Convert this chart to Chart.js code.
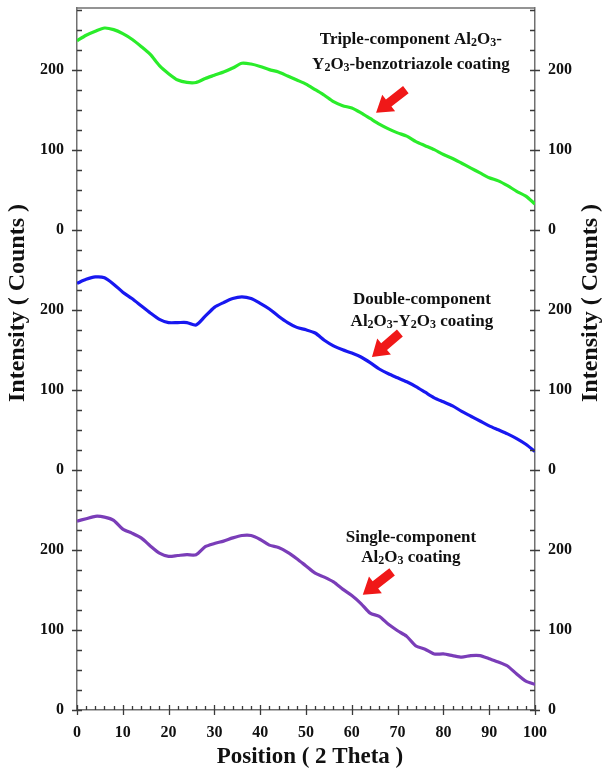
<!DOCTYPE html>
<html>
<head>
<meta charset="utf-8">
<script src="https://cdn.jsdelivr.net/npm/chart.js@4.4.1/dist/chart.umd.min.js"></script>
<style>
  html, body { margin: 0; padding: 0; background: #fff; }
</style>
</head>
<body>
<canvas id="xrdChart" width="602" height="772"></canvas>
<script>
// 2 theta positions (degrees)
const positions = [0, 2, 4, 6, 8, 10, 12, 14, 16, 18, 20, 22, 24, 26, 28, 30, 32, 34, 36, 38, 40,
  42, 44, 46, 48, 50, 52, 54, 56, 58, 60, 62, 64, 66, 68, 70, 72, 74, 76, 78, 80,
  82, 84, 86, 88, 90, 92, 94, 96, 98, 100];

// intensities (counts)
const tripleCoating = [236, 243, 248, 252, 250, 245, 238, 229, 219, 205, 195, 187, 184, 184, 189, 193, 197, 202, 208, 207, 204,
  200, 197, 192, 187, 182, 175, 168, 160, 155, 152, 146, 139, 132, 126, 121, 117, 110, 105, 100, 94,
  89, 83, 77, 71, 65, 61, 55, 48, 42, 32];
const doubleCoating = [233, 238, 241, 240, 232, 222, 214, 205, 196, 188, 184, 184, 184, 181, 192, 203, 209, 214, 216, 214, 208,
  201, 192, 184, 178, 175, 171, 162, 155, 150, 146, 141, 134, 126, 120, 115, 110, 104, 97, 90, 85,
  80, 73, 67, 61, 55, 50, 45, 39, 32, 23];
const singleCoating = [236, 239, 242, 241, 237, 226, 221, 215, 205, 196, 192, 193, 194, 194, 204, 208, 211, 215, 218, 218, 213,
  206, 203, 197, 189, 180, 171, 166, 160, 151, 143, 133, 121, 117, 107, 99, 92, 80, 76, 70, 70,
  68, 66, 68, 68, 64, 60, 55, 45, 36, 32];

// panels are stacked on one axis, each 300 counts tall
const panelOffsets = [600, 300, 0];
const panelSpan = 300;
const yTop = 877;

const serif = '"Liberation Serif", "Times New Roman", serif';
const frameColor = '#707070';

const notes = [
  { lines: ['Triple-component Al{2}O{3}-', 'Y{2}O{3}-benzotriazole coating'], panel: 0,
    textX: 72.9, textY: [237.5, 206], arrow: [71.8, 175, 65.3, 146] },
  { lines: ['Double-component', 'Al{2}O{3}-Y{2}O{3} coating'], panel: 1,
    textX: 75.3, textY: [212.5, 185], arrow: [70.5, 171, 64.4, 141] },
  { lines: ['Single-component', 'Al{2}O{3} coating'], panel: 2,
    textX: 72.9, textY: [215, 190], arrow: [68.8, 172.5, 62.4, 144] }
];

function toPoints(values, offset) {
  return positions.map((p, i) => ({ x: p, y: values[i] + offset }));
}

function drawRich(ctx, str, cx, cy, size) {
  const parts = str.split(/(\{\d\})/).filter(Boolean)
    .map(s => s[0] === '{' ? { t: s.slice(1, -1), sub: true } : { t: s, sub: false });
  const main = `bold ${size}px ${serif}`;
  const small = `bold ${Math.round(size * 0.68)}px ${serif}`;
  let w = 0;
  parts.forEach(p => { ctx.font = p.sub ? small : main; p.w = ctx.measureText(p.t).width; w += p.w; });
  let x = cx - w / 2;
  ctx.textAlign = 'left';
  ctx.textBaseline = 'middle';
  parts.forEach(p => {
    ctx.font = p.sub ? small : main;
    ctx.fillText(p.t, x, cy + (p.sub ? size * 0.2 : 0));
    x += p.w;
  });
}

function drawArrow(ctx, x0, y0, x1, y1) {
  const len = Math.hypot(x1 - x0, y1 - y0);
  const sw = 9, hw = 21, hl = 16;
  ctx.save();
  ctx.translate(x0, y0);
  ctx.rotate(Math.atan2(y1 - y0, x1 - x0));
  ctx.beginPath();
  ctx.moveTo(0, -sw / 2);
  ctx.lineTo(len - hl, -sw / 2);
  ctx.lineTo(len - hl, -hw / 2);
  ctx.lineTo(len, 0);
  ctx.lineTo(len - hl, hw / 2);
  ctx.lineTo(len - hl, sw / 2);
  ctx.lineTo(0, sw / 2);
  ctx.closePath();
  ctx.fillStyle = '#f01818';
  ctx.fill();
  ctx.restore();
}

// tick marks, frame top, axis titles and the notes with arrows
const decorPlugin = {
  id: 'decor',
  afterDraw(chart) {
    const { ctx, chartArea: a, scales } = chart;
    const xs = scales.x, ys = scales.y;
    ctx.save();

    ctx.strokeStyle = frameColor;
    ctx.lineWidth = 1.5;
    ctx.beginPath();
    ctx.moveTo(a.left, a.top);
    ctx.lineTo(a.right, a.top);
    ctx.stroke();

    ctx.strokeStyle = '#3a3a3a';
    ctx.lineWidth = 1.3;
    ys.ticks.forEach(t => {
      if (t.value % 25 !== 0) return;
      const py = Math.round(ys.getPixelForValue(t.value)) + 0.5;
      const major = t.value % 100 === 0;
      ctx.beginPath();
      ctx.moveTo(a.left - (major ? 5 : 0), py);
      ctx.lineTo(a.left + 5, py);
      ctx.moveTo(a.right + (major ? 5 : 0), py);
      ctx.lineTo(a.right - 5, py);
      ctx.stroke();
    });
    xs.ticks.forEach(t => {
      const px = Math.round(xs.getPixelForValue(t.value)) + 0.5;
      const major = t.value % 10 === 0;
      ctx.beginPath();
      ctx.moveTo(px, a.bottom + (major ? 5 : 0));
      ctx.lineTo(px, a.bottom - (major ? 5 : 4));
      ctx.stroke();
    });

    ctx.fillStyle = '#111';
    ctx.font = `bold 23px ${serif}`;
    ctx.textAlign = 'center';
    ctx.textBaseline = 'middle';
    ctx.fillText('Position ( 2 Theta )', 310, 757);
    ctx.font = `bold 24px ${serif}`;
    [18, 591].forEach(cx => {
      ctx.save();
      ctx.translate(cx, 303);
      ctx.rotate(-Math.PI / 2);
      ctx.fillText('Intensity ( Counts )', 0, 0);
      ctx.restore();
    });

    notes.forEach(n => {
      const off = panelOffsets[n.panel];
      const tx = xs.getPixelForValue(n.textX);
      n.lines.forEach((line, i) => {
        ctx.fillStyle = '#111';
        drawRich(ctx, line, tx, ys.getPixelForValue(n.textY[i] + off), 17);
      });
      const [ax0, ay0, ax1, ay1] = n.arrow;
      drawArrow(ctx, xs.getPixelForValue(ax0), ys.getPixelForValue(ay0 + off),
        xs.getPixelForValue(ax1), ys.getPixelForValue(ay1 + off));
    });
    ctx.restore();
  }
};

const tickFont = { family: serif, size: 16, weight: 'bold' };
const yLabel = v => (v % 100 === 0 ? String(v % panelSpan) : '');

function yScale(position, width) {
  return {
    type: 'linear',
    position,
    min: 0,
    max: yTop,
    grid: { display: false },
    border: { display: true, color: frameColor, width: 1.5 },
    ticks: { stepSize: 25, autoSkip: false, includeBounds: false, padding: 5, color: '#111', font: tickFont, callback: yLabel },
    afterFit: s => { s.width = width; s.paddingTop = 0; s.paddingBottom = 0; }
  };
}

new Chart(document.getElementById('xrdChart'), {
  type: 'line',
  data: {
    datasets: [
      { label: 'Triple-component', data: toPoints(tripleCoating, panelOffsets[0]), borderColor: '#2aec2a' },
      { label: 'Double-component', data: toPoints(doubleCoating, panelOffsets[1]), borderColor: '#1818f0' },
      { label: 'Single-component', data: toPoints(singleCoating, panelOffsets[2]), borderColor: '#7a3db8' }
    ]
  },
  options: {
    responsive: false,
    animation: false,
    devicePixelRatio: 1,
    layout: { padding: { top: 8, left: 0, right: 0, bottom: 0 } },
    elements: {
      point: { radius: 0 },
      line: { borderWidth: 3.2, tension: 0.25 }
    },
    plugins: { legend: { display: false }, tooltip: { enabled: false } },
    scales: {
      x: {
        type: 'linear',
        position: 'bottom',
        min: 0,
        max: 100,
        grid: { display: false },
        border: { display: true, color: frameColor, width: 1.5 },
        ticks: { stepSize: 2, autoSkip: false, maxRotation: 0, padding: 5, color: '#111', font: tickFont,
          callback: v => (v % 10 === 0 ? String(v) : '') },
        afterFit: s => { s.height = 62; s.paddingLeft = 0; s.paddingRight = 0; }
      },
      y: yScale('left', 77),
      y2: yScale('right', 67)
    }
  },
  plugins: [decorPlugin]
});
</script>
</body>
</html>
